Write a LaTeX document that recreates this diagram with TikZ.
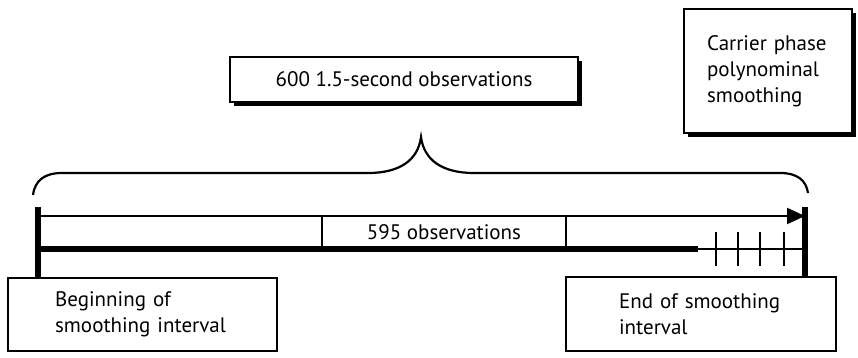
\documentclass[tikz,border=0pt]{standalone}
\usepackage{fontspec}
\setmainfont{PT Sans}
\usetikzlibrary{arrows.meta,shadows}
\begin{document}
\begin{tikzpicture}[x=1pt,y=-1pt,
  txt/.style={font=\fontsize{21}{26}\selectfont},
  plainbox/.style={txt,draw,line width=2.2pt,fill=white,inner sep=0pt,align=left},
  shadebox/.style={plainbox,drop shadow={shadow xshift=3.5pt,shadow yshift=-3.5pt,fill=black,opacity=1}},
  thinline/.style={line width=2.2pt},
  heavyline/.style={line width=5.5pt}]
\useasboundingbox (0,0) rectangle (858,358);
\node[shadebox,anchor=north west,minimum width=348pt,minimum height=45pt,align=center] (total) at (229,56) {600 1.5-second observations};
\node[shadebox,anchor=north west,minimum width=168pt,minimum height=124pt,text width=122pt] (method) at (683,8) {Carrier phase\\polynominal\\smoothing};
\node[plainbox,anchor=north west,minimum width=269pt,minimum height=73pt,text width=175pt] (begin) at (7,277) {Beginning of\\smoothing interval};
\node[plainbox,anchor=north west,minimum width=270pt,minimum height=74pt,text width=164pt] (finish) at (565,276) {End of smoothing\\interval};
\coordinate (begtop) at (38,207);
\coordinate (endtop) at (805,207);
\draw[heavyline] (begtop) -- (begtop |- begin.north);
\draw[heavyline] (endtop) -- (endtop |- finish.north);
\draw[thinline,-{Triangle[length=18pt,width=16pt]}] (40,216) -- (805,216);
\draw[heavyline] (41,249) -- (698,249);
\draw[thinline] (698,249) -- (805,249);
\draw[thinline] (322,216) -- (322,249);
\draw[thinline] (566,216) -- (566,249);
\node[txt] (mid) at (444,232) {595 observations};
\foreach \x in {716,738,760,784}
  \draw[thinline] (\x,232) -- (\x,266);
\draw[thinline] (33,195) .. controls (35,180) and (45,173) .. (62,173) -- (368,173)
  .. controls (400,173) and (418,160) .. (421,137)
  .. controls (424,160) and (442,173) .. (474,173) -- (780,173)
  .. controls (797,173) and (806,180) .. (808,193);
\end{tikzpicture}
\end{document}
